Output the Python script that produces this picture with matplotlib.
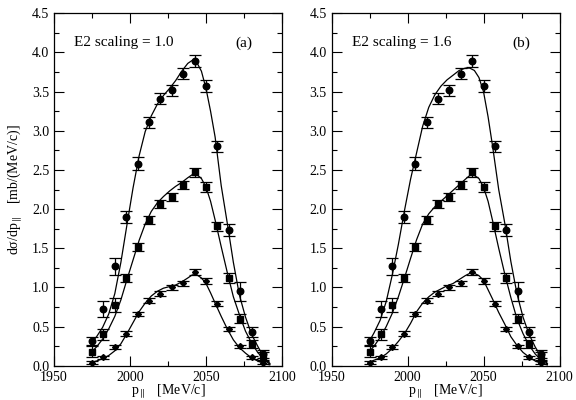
import matplotlib
matplotlib.use("Agg")
import matplotlib.pyplot as plt
from matplotlib.ticker import MultipleLocator

plt.rcParams['font.family'] = ['Liberation Serif', 'DejaVu Serif']
plt.rcParams['mathtext.fontset'] = 'custom'
plt.rcParams['mathtext.rm'] = 'Liberation Serif'
plt.rcParams['mathtext.it'] = 'Liberation Serif'

# measured points (same data in both panels)
p_data = [1975, 1982.5, 1990, 1997.5, 2005, 2012.5, 2020, 2027.5,
          2035, 2042.5, 2050, 2057.5, 2065, 2072.5, 2080, 2087.5]
circ = [0.32, 0.72, 1.27, 1.90, 2.58, 3.11, 3.41, 3.52,
        3.73, 3.89, 3.57, 2.80, 1.73, 0.95, 0.43, 0.15]
circ_err = [0.05, 0.10, 0.11, 0.08, 0.08, 0.07, 0.07, 0.07,
            0.07, 0.08, 0.08, 0.07, 0.08, 0.12, 0.06, 0.05]
sq = [0.18, 0.40, 0.78, 1.12, 1.52, 1.86, 2.06, 2.15,
      2.31, 2.47, 2.28, 1.78, 1.12, 0.60, 0.28, 0.12]
sq_err = [0.07, 0.07, 0.09, 0.05, 0.05, 0.05, 0.05, 0.05,
          0.05, 0.06, 0.06, 0.06, 0.06, 0.06, 0.05, 0.05]
dia = [0.04, 0.11, 0.24, 0.41, 0.66, 0.83, 0.92, 1.00,
       1.05, 1.20, 1.08, 0.79, 0.47, 0.25, 0.11, 0.04]
dia_err = [0.02, 0.02, 0.03, 0.03, 0.03, 0.03, 0.03, 0.03,
           0.03, 0.04, 0.04, 0.03, 0.03, 0.02, 0.02, 0.02]

# theory curves
p_curve = [1974, 1978, 1982, 1986, 1990, 1994, 1998, 2002, 2006, 2010, 2014,
           2018, 2022, 2026, 2030, 2034, 2038, 2041, 2044, 2047, 2050, 2053,
           2056, 2060, 2064, 2068, 2072, 2076, 2080, 2084, 2088, 2092]
a_top = [0.28, 0.37, 0.49, 0.66, 0.92, 1.32, 1.80, 2.27, 2.68, 2.99, 3.19,
         3.34, 3.45, 3.54, 3.64, 3.76, 3.86, 3.90, 3.87, 3.76, 3.54, 3.25,
         2.92, 2.30, 1.82, 1.32, 0.90, 0.62, 0.40, 0.25, 0.11, 0.03]
a_mid = [0.16, 0.24, 0.34, 0.47, 0.63, 0.84, 1.10, 1.35, 1.60, 1.81, 1.97,
         2.08, 2.16, 2.23, 2.29, 2.34, 2.40, 2.44, 2.44, 2.39, 2.28, 2.10,
         1.86, 1.52, 1.19, 0.88, 0.65, 0.44, 0.29, 0.17, 0.08, 0.02]
a_bot = [0.04, 0.06, 0.09, 0.13, 0.19, 0.28, 0.41, 0.55, 0.69, 0.80, 0.89,
         0.95, 0.99, 1.01, 1.03, 1.07, 1.12, 1.16, 1.16, 1.12, 1.05, 0.93,
         0.80, 0.63, 0.47, 0.33, 0.23, 0.16, 0.10, 0.06, 0.03, 0.01]
b_top = [0.28, 0.42, 0.58, 0.82, 1.16, 1.55, 1.98, 2.38, 2.72, 3.06, 3.30,
         3.46, 3.57, 3.65, 3.71, 3.77, 3.80, 3.80, 3.77, 3.68, 3.50, 3.18,
         2.80, 2.25, 1.82, 1.33, 0.92, 0.62, 0.40, 0.24, 0.11, 0.03]
b_mid = [0.16, 0.25, 0.36, 0.50, 0.67, 0.88, 1.12, 1.37, 1.61, 1.81, 1.94,
         2.03, 2.10, 2.17, 2.24, 2.31, 2.38, 2.43, 2.43, 2.39, 2.28, 2.10,
         1.85, 1.50, 1.17, 0.87, 0.60, 0.41, 0.26, 0.15, 0.07, 0.02]
b_bot = [0.04, 0.07, 0.10, 0.15, 0.22, 0.31, 0.41, 0.54, 0.69, 0.80, 0.88,
         0.94, 0.98, 1.02, 1.05, 1.10, 1.15, 1.18, 1.18, 1.15, 1.09, 0.97,
         0.85, 0.68, 0.53, 0.37, 0.26, 0.17, 0.11, 0.06, 0.03, 0.01]

panels = [("E2 scaling = 1.0", "(a)", [a_top, a_mid, a_bot]),
          ("E2 scaling = 1.6", "(b)", [b_top, b_mid, b_bot])]

fig = plt.figure(figsize=(5.76, 4.0), dpi=100)
lefts = [54 / 576, 331.5 / 576]

for i, (txt, tag, curves) in enumerate(panels):
    ax = fig.add_axes([lefts[i], 34.3 / 400, 228 / 576, 352.4 / 400])
    for c in curves:
        ax.plot(p_curve, c, color='k', lw=0.9)
    for y, e, m, ms in [(circ, circ_err, 'o', 4.7), (sq, sq_err, 's', 4.2),
                        (dia, dia_err, 'D', 3.0)]:
        ax.errorbar(p_data, y, yerr=e, fmt=m, color='k', ms=ms, lw=0.9,
                    capsize=4.5, capthick=0.9)
    ax.set_xlim(1950, 2100)
    ax.set_ylim(0, 4.5)
    ax.xaxis.set_major_locator(MultipleLocator(50))
    ax.xaxis.set_minor_locator(MultipleLocator(25))
    ax.yaxis.set_major_locator(MultipleLocator(0.5))
    ax.yaxis.set_minor_locator(MultipleLocator(0.25))
    ax.yaxis.set_major_formatter(lambda v, pos: f"{v:.1f}")
    ax.tick_params(which='both', direction='in', top=True, right=True,
                   labelsize=10, width=0.8)
    ax.tick_params(which='major', length=7)
    ax.tick_params(which='minor', length=3.5)
    for s in ax.spines.values():
        s.set_linewidth(0.9)
    ax.text(0.088, 0.916, txt, transform=ax.transAxes, fontsize=11,
            va='center', ha='left')
    ax.text(0.833, 0.916, tag, transform=ax.transAxes, fontsize=11,
            va='center', ha='center')
    ax.set_xlabel(r"p$_{\parallel}$   [MeV/c]", fontsize=10, labelpad=-1)
    if i == 0:
        ax.set_ylabel(r"d$\sigma$/dp$_{\parallel}$   [mb/(MeV/c)]",
                      fontsize=10, labelpad=6)

fig.savefig("out.png", dpi=100)
